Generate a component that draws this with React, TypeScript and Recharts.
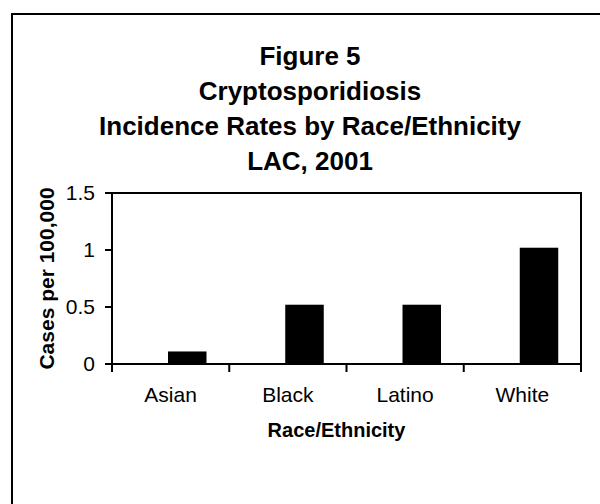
import { Bar, BarChart, ReferenceArea, XAxis, YAxis } from "recharts";

const categories = ["Asian", "Black", "Latino", "White"];
const rates = [0.11, 0.52, 0.52, 1.02];
const yTicks = [0, 0.5, 1, 1.5];
const titleLines = ["Figure 5", "Cryptosporidiosis", "Incidence Rates by Race/Ethnicity", "LAC, 2001"];

const data = categories.map((category, i) => ({ category, rate: rates[i] }));

const FONT = "'Liberation Sans', Arial, sans-serif";
const WIDTH = 600;
const HEIGHT = 504;
const MARGIN = { top: 193, right: 19, bottom: 80, left: 52 };
const Y_AXIS_W = 60;
const BAND = (WIDTH - MARGIN.left - MARGIN.right - Y_AXIS_W) / categories.length;
// Excel put the bars right of the band centre
const BAR_SHIFT = 17;

function CategoryTick(props: any) {
    const { x, y, payload, index } = props;
    const half = BAND / 2;
    return <g>
        <line x1={x - half} x2={x - half} y1={y} y2={y + 8} stroke="#000" strokeWidth={2} />
        {index === categories.length - 1 &&
            <line x1={x + half} x2={x + half} y1={y} y2={y + 8} stroke="#000" strokeWidth={2} />}
        <text x={x} y={y + 38} textAnchor="middle" fontFamily={FONT} fontSize={21} fill="#000">
            {payload.value}
        </text>
    </g>;
}

function ShiftedBar(props: any) {
    const { x, y, width, height } = props;
    if (!height) return null;
    return <rect x={x + BAR_SHIFT} y={y} width={width} height={height} fill="#000" />;
}

export default function App() {
    return <div style={{ position: "absolute", left: 0, top: 0, width: WIDTH, height: HEIGHT, background: "#fff", overflow: "hidden" }}>
        <div style={{ position: "absolute", left: 11, top: 13, width: 620, height: 520, borderLeft: "2px solid #000", borderTop: "2px solid #000" }} />
        <div style={{ position: "absolute", left: 11, top: 39, width: 598, textAlign: "center", fontFamily: FONT, fontWeight: "bold", fontSize: 26, lineHeight: "35px", color: "#000" }}>
            {titleLines.map(line => <div key={line}>{line}</div>)}
        </div>
        <div style={{ position: "absolute", left: 0, top: 0 }}>
            <BarChart width={WIDTH} height={HEIGHT} data={data} margin={MARGIN} barSize={38.5}>
                <XAxis dataKey="category" height={60} tickSize={0} tickMargin={0} tickLine={false}
                    axisLine={{ stroke: "#000", strokeWidth: 2 }} tick={<CategoryTick />} interval={0}
                    label={{
                        content: (p: any) => <text x={p.viewBox.x + p.viewBox.width / 2 - 10} y={p.viewBox.y + 73}
                            textAnchor="middle" fontFamily={FONT} fontWeight="bold" fontSize={20} fill="#000">Race/Ethnicity</text>
                    }} />
                <YAxis domain={[0, 1.5]} ticks={yTicks} width={Y_AXIS_W} tickSize={7} tickMargin={10}
                    tickFormatter={(v: number) => String(v)}
                    axisLine={{ stroke: "#000", strokeWidth: 2 }} tickLine={{ stroke: "#000", strokeWidth: 2 }}
                    tick={{ fill: "#000", fontSize: 21, fontFamily: FONT }}
                    label={{
                        content: (p: any) => {
                            const cx = p.viewBox.x - 5;
                            const cy = p.viewBox.y + p.viewBox.height / 2;
                            return <text x={cx} y={cy} transform={`rotate(-90 ${cx} ${cy})`} dy="0.35em"
                                textAnchor="middle" fontFamily={FONT} fontWeight="bold" fontSize={21} fill="#000">
                                Cases per 100,000</text>;
                        }
                    }} />
                <ReferenceArea y1={0} y2={1.5} fill="none" stroke="#000" strokeWidth={2} fillOpacity={0} />
                <Bar dataKey="rate" fill="#000" shape={<ShiftedBar />} isAnimationActive={false} />
            </BarChart>
        </div>
    </div>;
}
